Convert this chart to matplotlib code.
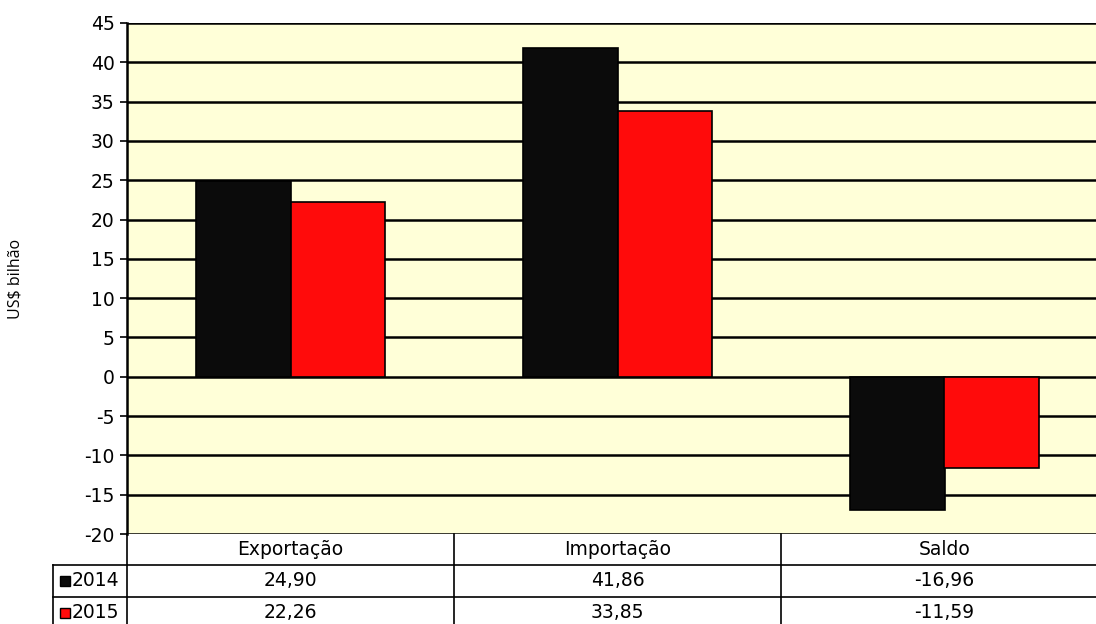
import matplotlib
matplotlib.use("Agg")
import matplotlib.pyplot as plt
from matplotlib.patches import Rectangle
import matplotlib.transforms as mtransforms

# ── data ────────────────────────────────────
categories = ["Exportação", "Importação", "Saldo"]
years = ["2014", "2015"]
vals_2014 = [24.90, 41.86, -16.96]
vals_2015 = [22.26, 33.85, -11.59]
yticks = list(range(-20, 50, 5))

colors = {"2014": "#0b0b0b", "2015": "#ff0b0b"}
bg = "#ffffd8"
FS = 13.5

W, H = 1096, 624
fig = plt.figure(figsize=(W / 100, H / 100), dpi=100)
# plot area (pixels): left 127, right ~1108 (runs off the page), top 23, bottom 534
ax = fig.add_axes([127 / W, 1 - 534 / H, (1108 - 127) / W, (534 - 23) / H])
ax.set_facecolor(bg)

bw = 0.2875
x = list(range(len(categories)))
ax.bar([i - bw / 2 for i in x], vals_2014, width=bw, color=colors["2014"],
       edgecolor="black", linewidth=1.2, zorder=3)
ax.bar([i + bw / 2 for i in x], vals_2015, width=bw, color=colors["2015"],
       edgecolor="black", linewidth=1.2, zorder=3)

ax.set_xlim(-0.5, 2.5)
ax.set_ylim(-20, 45)
ax.set_yticks(yticks)
ax.set_yticklabels([str(t) for t in yticks], fontsize=FS)
ax.set_xticks([])
for t in yticks:
    ax.axhline(t, color="black", linewidth=1.8, zorder=2)
ax.tick_params(axis="y", length=5, width=1.2, pad=4)
for s in ["top", "right", "bottom"]:
    ax.spines[s].set_visible(False)
ax.spines["left"].set_linewidth(1.8)

ax.set_ylabel("US$ bilhão", fontsize=11.5, family="Open Sans", labelpad=44)

# ── data table under the plot ───────────────
ax_h = 534 - 23
def yf(px):
    # pixel offset below the plot bottom -> axes fraction
    return -px / ax_h

tr = mtransforms.blended_transform_factory(ax.transData, ax.transAxes)
lt = dict(color="black", linewidth=1.2, clip_on=False, transform=ax.transAxes)

x_leg = (53 - 127) / (1108 - 127)  # left edge of legend column, axes fraction

# horizontal rules
for yb in [31, 63]:
    ax.plot([x_leg, 1], [yf(yb), yf(yb)], **lt)
# vertical rules
ax.plot([0, 0], [0, yf(95)], **lt)
ax.plot([x_leg, x_leg], [yf(31), yf(95)], **lt)
for b in [0.5, 1.5]:
    ax.plot([b, b], [0, yf(95)], color="black", linewidth=1.2,
            clip_on=False, transform=tr)

for i, c in enumerate(categories):
    ax.text(i, yf(15.5), c, ha="center", va="center", fontsize=FS,
            transform=tr, clip_on=False)

def fmt(v):
    return f"{v:.2f}".replace(".", ",")

for r, (yr, vals) in enumerate(zip(years, [vals_2014, vals_2015])):
    ymid = yf(47 + 32 * r)
    for i, v in enumerate(vals):
        ax.text(i, ymid, fmt(v), ha="center", va="center", fontsize=FS,
                transform=tr, clip_on=False)
    sw = 10 / (1108 - 127)
    swh = 10 / ax_h
    ax.add_patch(Rectangle((x_leg + 7 / 981, ymid - swh / 2), sw, swh,
                           facecolor=colors[yr], edgecolor="black",
                           linewidth=1.0, transform=ax.transAxes, clip_on=False))
    ax.text(x_leg + 19 / 981, ymid, yr, ha="left", va="center", fontsize=FS,
            transform=ax.transAxes, clip_on=False)

fig.savefig("out.png", dpi=100)
